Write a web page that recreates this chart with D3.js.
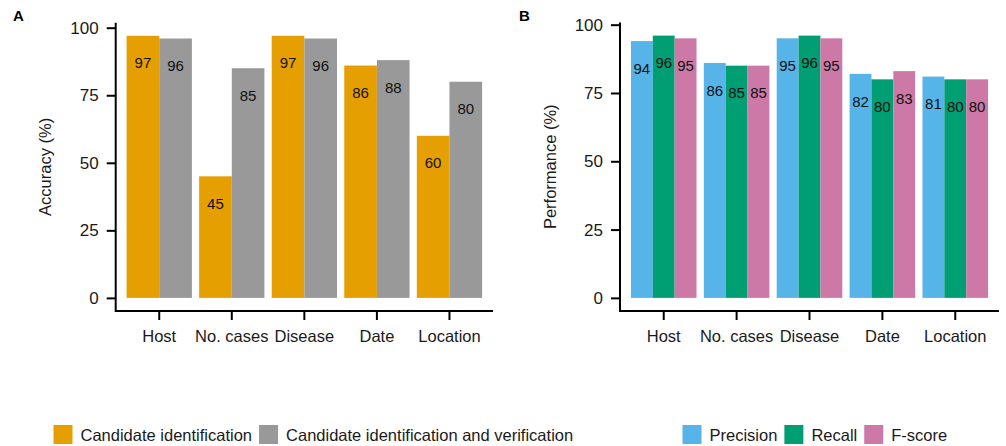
<!DOCTYPE html>
<html>
<head>
<meta charset="utf-8">
<script src="https://cdn.jsdelivr.net/npm/d3@7"></script>
<style>
  body { margin: 0; background: #fff; }
  svg { display: block; font-family: "Liberation Sans", Arial, sans-serif; }
</style>
</head>
<body>
<svg width="1006" height="446"></svg>
<script>
var categories = ["Host", "No. cases", "Disease", "Date", "Location"];

// panel A
var seriesA = ["Candidate identification", "Candidate identification and verification"];
var candidateId = [97, 45, 97, 86, 60];
var candidateIdVer = [96, 85, 96, 88, 80];
var colorsA = ["#E69F00", "#999999"];

// panel B
var seriesB = ["Precision", "Recall", "F-score"];
var precision = [94, 86, 95, 82, 81];
var recall = [96, 85, 96, 80, 80];
var fscore = [95, 85, 95, 83, 80];
var colorsB = ["#56B4E9", "#009E73", "#CC79A7"];

var yTicks = [0, 25, 50, 75, 100];

var svg = d3.select("svg");
var axisColor = "#000";
var textColor = "#1a1a1a";

function drawPanel(opts) {
    var g = svg.append("g");

    var x = d3.scaleBand()
        .domain(categories)
        .range([opts.left, opts.right])
        .paddingInner(0.1)
        .paddingOuter(0.15);

    var y = d3.scaleLinear()
        .domain(opts.yDomain)
        .range([opts.bottom, opts.top]);

    var xSub = d3.scaleBand()
        .domain(d3.range(opts.values.length))
        .range([0, x.bandwidth()]);

    // bars
    opts.values.forEach(function(vals, s) {
        g.append("g").selectAll("rect")
            .data(vals)
            .enter().append("rect")
            .attr("x", function(d, i) { return x(categories[i]) + xSub(s); })
            .attr("y", function(d) { return y(d); })
            .attr("width", xSub.bandwidth())
            .attr("height", function(d) { return y(0) - y(d); })
            .attr("fill", opts.colors[s]);
    });

    // value labels, 10 units under the bar top
    opts.values.forEach(function(vals, s) {
        g.append("g").selectAll("text")
            .data(vals)
            .enter().append("text")
            .attr("x", function(d, i) { return x(categories[i]) + xSub(s) + xSub.bandwidth() / 2; })
            .attr("y", function(d) { return y(d - 10); })
            .attr("text-anchor", "middle")
            .attr("dominant-baseline", "central")
            .style("font-size", "15px")
            .attr("fill", "#111")
            .text(function(d) { return d; });
    });

    // y axis
    var yAxis = d3.axisLeft(y).tickValues(yTicks).tickSize(9).tickPadding(8);
    var gy = g.append("g")
        .attr("transform", "translate(" + opts.left + ",0)")
        .call(yAxis);
    gy.select(".domain").remove();
    gy.selectAll(".tick line").attr("stroke", axisColor).attr("stroke-width", 2);
    gy.selectAll(".tick text").attr("fill", textColor).style("font-size", "17px");

    // x axis
    var xAxis = d3.axisBottom(x).tickSize(9).tickPadding(10);
    var gx = g.append("g")
        .attr("transform", "translate(0," + opts.bottom + ")")
        .call(xAxis);
    gx.select(".domain").remove();
    gx.selectAll(".tick line").attr("stroke", axisColor).attr("stroke-width", 2);
    gx.selectAll(".tick text").attr("fill", textColor).style("font-size", "16.5px");

    // axis lines
    g.append("path")
        .attr("d", "M" + opts.left + "," + opts.top + "V" + opts.bottom + "H" + opts.right)
        .attr("fill", "none")
        .attr("stroke", axisColor)
        .attr("stroke-width", 2);

    // axis title
    g.append("text")
        .attr("transform", "translate(" + opts.titleX + "," + ((opts.top + opts.bottom) / 2) + ") rotate(-90)")
        .attr("text-anchor", "middle")
        .attr("dominant-baseline", "central")
        .style("font-size", "16.5px")
        .attr("fill", textColor)
        .text(opts.title);

    // panel letter
    g.append("text")
        .attr("x", opts.letterX)
        .attr("y", 21)
        .style("font-size", "15px")
        .style("font-weight", "bold")
        .text(opts.letter);
}

drawPanel({
    left: 115.7, right: 493, top: 22.7, bottom: 311,
    yDomain: [-4.85, 101.85],
    values: [candidateId, candidateIdVer],
    colors: colorsA,
    title: "Accuracy (%)", titleX: 45,
    letter: "A", letterX: 13
});

drawPanel({
    left: 620, right: 999, top: 22.5, bottom: 311,
    yDomain: [-4.8, 100.8],
    values: [precision, recall, fscore],
    colors: colorsB,
    title: "Performance (%)", titleX: 550,
    letter: "B", letterX: 519
});

// legends
function drawLegend(series, colors, startX) {
    var lg = svg.append("g").attr("transform", "translate(" + startX + ",425)");
    var cx = 0;
    series.forEach(function(name, i) {
        var item = lg.append("g").attr("transform", "translate(" + cx + ",0)");
        item.append("rect")
            .attr("width", 19).attr("height", 19)
            .attr("fill", colors[i]);
        var t = item.append("text")
            .attr("x", 27).attr("y", 10)
            .attr("dominant-baseline", "central")
            .style("font-size", "16.5px")
            .attr("fill", textColor)
            .text(name);
        cx += 27 + t.node().getComputedTextLength() + 7;
    });
}
drawLegend(seriesA, colorsA, 53.5);
drawLegend(seriesB, colorsB, 682.5);
</script>
</body>
</html>
